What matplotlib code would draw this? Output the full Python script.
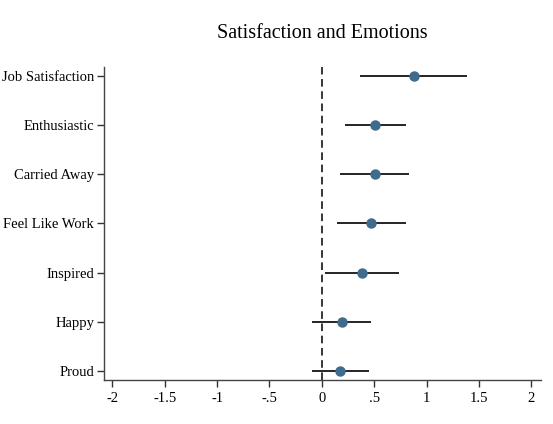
import matplotlib.pyplot as plt

plt.rcParams['font.family'] = ['Liberation Serif', 'DejaVu Serif']

# Estimates and confidence intervals
labels = ["Job Satisfaction", "Enthusiastic", "Carried Away", "Feel Like Work",
          "Inspired", "Happy", "Proud"]
coef = [0.878, 0.509, 0.503, 0.468, 0.385, 0.188, 0.175]
lower = [0.363, 0.216, 0.175, 0.143, 0.029, -0.092, -0.095]
upper = [1.39, 0.80, 0.83, 0.80, 0.74, 0.465, 0.446]
xticks = [-2, -1.5, -1, -0.5, 0, 0.5, 1, 1.5, 2]
xticklabels = ["-2", "-1.5", "-1", "-.5", "0", ".5", "1", "1.5", "2"]

fig = plt.figure(figsize=(5.53, 4.24), dpi=100)
ax = fig.add_axes([0.188, 0.104, 0.790, 0.738])

ypos = list(range(len(labels)))[::-1]

# 1. CI lines
ax.hlines(ypos, lower, upper, color="black", linewidth=1.2, zorder=2)

# 2. Points
ax.plot(coef, ypos, "o", color="#3f6b8c", markersize=6.5, zorder=3)

# 3. Reference line at zero
ax.axvline(0, color="black", linestyle=(0, (5, 3)), linewidth=1.1, zorder=1)

ax.set_xlim(-2.08, 2.09)
ax.set_ylim(-0.18, len(labels) - 1 + 0.18)
ax.set_xticks(xticks)
ax.set_xticklabels(xticklabels)
ax.set_yticks(ypos)
ax.set_yticklabels(labels)
ax.tick_params(labelsize=10.5, length=5, width=1, color="#333333")
ax.tick_params(axis="y", pad=2)

for side in ["top", "right"]:
    ax.spines[side].set_visible(False)
for side in ["left", "bottom"]:
    ax.spines[side].set_color("#444444")
    ax.spines[side].set_linewidth(1)

fig.text(0.583, 0.922, "Satisfaction and Emotions", ha="center", va="center",
         fontsize=14.5)

plt.savefig("out.png", dpi=100)
